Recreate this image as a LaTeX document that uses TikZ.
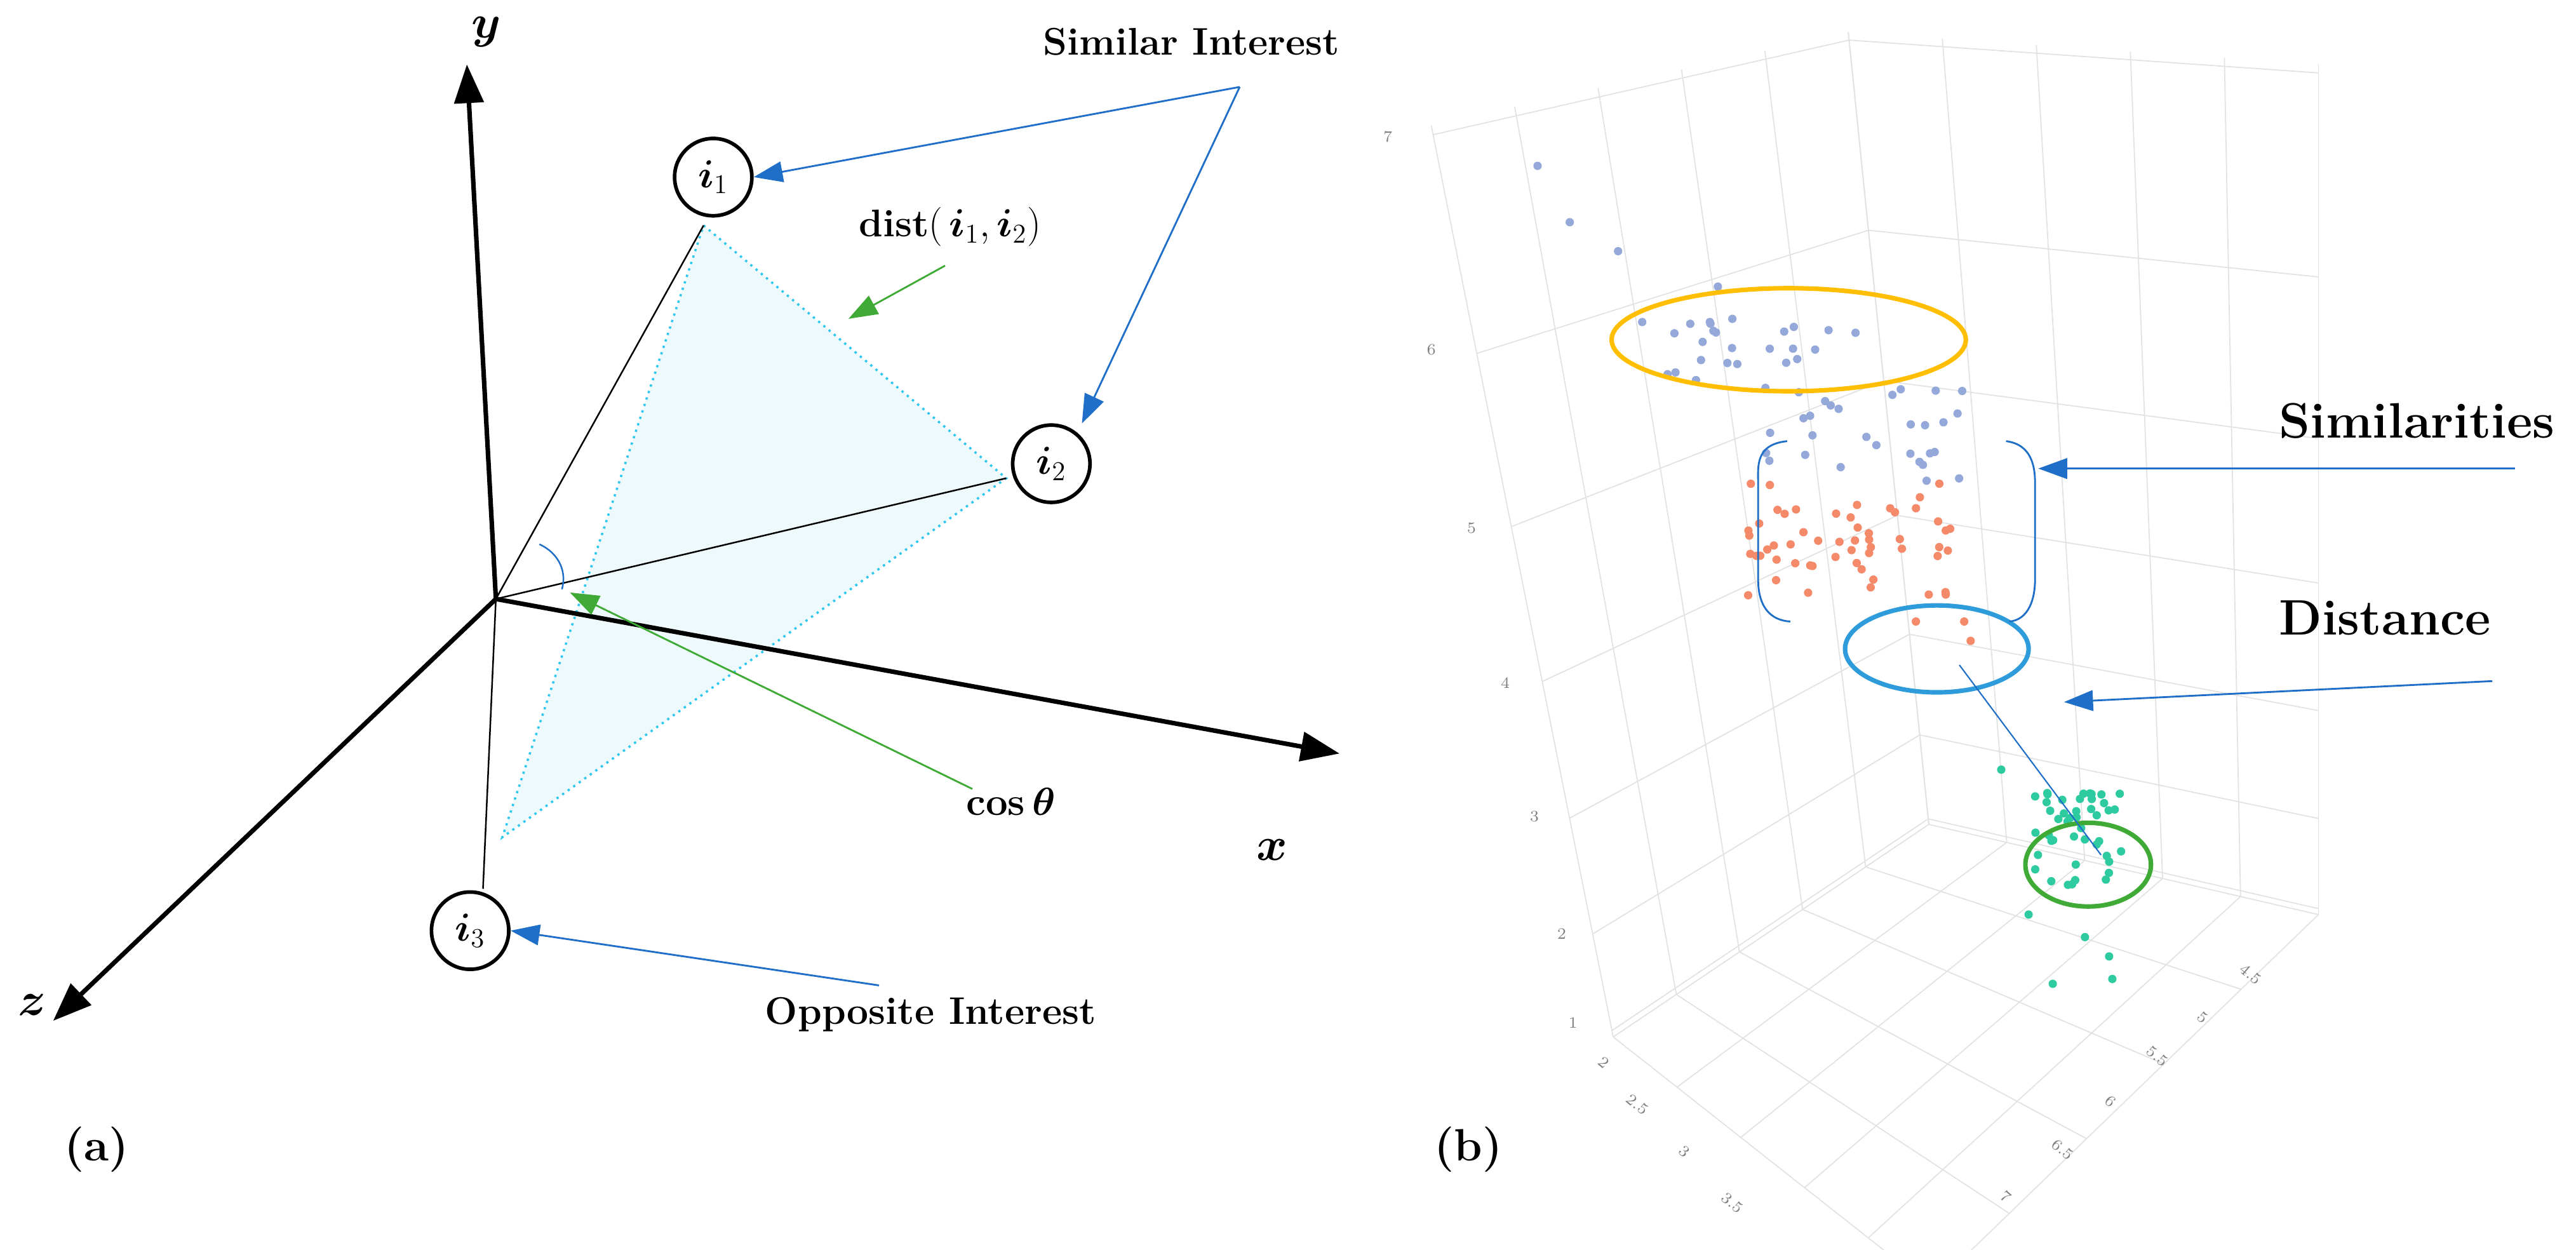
\documentclass[tikz,border=0pt]{standalone}
\usepackage{amsmath,amssymb}
\usetikzlibrary{arrows.meta}
\definecolor{abl}{HTML}{1F6FC8}
\definecolor{agr}{HTML}{3FAA35}
\definecolor{tcy}{HTML}{2FC7EE}
\definecolor{tfill}{HTML}{EEF9FC}
\definecolor{pblue}{HTML}{94A9D9}
\definecolor{pora}{HTML}{F58A6A}
\definecolor{pgre}{HTML}{2FCBA0}
\definecolor{eyel}{HTML}{FFBE00}
\definecolor{eblu}{HTML}{2E9BDB}
\definecolor{egre}{HTML}{3FAA35}
\definecolor{grid}{HTML}{E2E2E2}
\begin{document}
\begin{tikzpicture}[x=0.025cm,y=-0.025cm,
  axis/.style={line width=2pt,-{Triangle[length=0.6cm,width=0.45cm]}},
  item/.style={circle,draw,line width=1.6pt,minimum size=1.2cm,inner sep=0pt,fill=white,font=\fontsize{18}{20}\selectfont},
  lab/.style={font=\bfseries\fontsize{17}{19}\selectfont,inner sep=1pt},
  big/.style={font=\bfseries\fontsize{22}{25}\selectfont,inner sep=1pt},
  barr/.style={abl,line width=0.8pt,-{Triangle[length=0.45cm,width=0.32cm]}},
  garr/.style={agr,line width=0.8pt,-{Triangle[length=0.45cm,width=0.32cm]}},
  tick/.style={gray,font=\fontsize{7}{8}\selectfont,inner sep=0pt},
  gl/.style={grid,line width=0.5pt}]
\useasboundingbox (0,0) rectangle (1600,776);
% ---------- panel (b) grid ----------
\begin{scope}
\clip (830,0) rectangle (1600,776);
\foreach \t in {0.007,0.113,0.24,0.39,0.56,0.75,0.99}{
  \draw[gl] ({1002+\t*(889-1002)},{644+\t*(78-644)}) -- ({1198+\t*(1148-1198)},{512+\t*(20-512)});
  \draw[gl] ({1198+\t*(1148-1198)},{512+\t*(20-512)}) -- ({1440},{568+\t*(40-568)});}
\foreach \s in {0,0.2,0.4,0.6,0.8,1}{
  \draw[gl] ({1002+\s*(1198-1002)},{644+\s*(512-644)}) -- ({889+\s*(1148-889)},{78+\s*(20-78)});
  \draw[gl] ({1198+\s*(1440-1198)},{512+\s*(568-512)}) -- ({1148+\s*(1440-1148)},{20+\s*(40-20)});}
\foreach \s in {0,0.2,0.4,0.6,0.8,1}{
  \draw[gl] ({1002+\s*(1198-1002)},{644+\s*(512-644)}) -- ({1200+\s*(1440-1200)},{800+\s*(568-800)});
  \draw[gl] ({1002+\s*(1200-1002)},{644+\s*(800-644)}) -- ({1198+\s*(1440-1198)},{512+\s*(568-512)});}
\end{scope}
% ticks
\foreach \v/\x/\y in {7/862/85,6/889/217,5/914/328,4/935/424,3/953/507,2/970/580,1/977/635}
  \node[tick] (ty\v) at (\x,\y) {\v};
\foreach \v/\x/\y [count=\i] in {2/996/660,2.5/1017/686,3/1046/715,3.5/1076/747}
  \node[tick,rotate=-40] (tx\i) at (\x,\y) {\v};
\foreach \v/\x/\y [count=\i] in {4.5/1398/605,5/1368/632,5.5/1340/656,6/1311/684,6.5/1281/714,7/1246/743}
  \node[tick,rotate=-40] (tz\i) at (\x,\y) {\v};
% points
\pgfmathsetseed{11}
\foreach \p in {(955,103),(975,138),(1005,156),(1067,178),(1020,200),(1040,207),(1062,200)}
  \fill[pblue] \p circle (2.6);
\foreach \k in {1,...,22}{\fill[pblue] ({1035+125*rnd},{195+45*rnd}) circle (2.6);}
\foreach \k in {1,...,30}{\fill[pblue] ({1095+125*rnd},{240+60*rnd}) circle (2.6);}
\foreach \k in {1,...,55}{\fill[pora] ({1085+135*rnd},{300+70*rnd}) circle (2.6);}
\foreach \p in {(1190,386),(1220,386),(1224,398)} \fill[pora] \p circle (2.6);
\foreach \k in {1,...,45}{\fill[pgre] ({1262+60*rnd},{492+58*rnd}) circle (2.6);}
\foreach \p in {(1243,478),(1260,568),(1295,582),(1310,594),(1275,611),(1312,608)} \fill[pgre] \p circle (2.6);
% ellipses
\draw[eyel,line width=2pt] (1111,211) ellipse (110 and 32);
\draw[eblu,line width=2pt] (1203,403) ellipse (57 and 27);
\draw[egre,line width=2pt] (1297,537) ellipse (39 and 26);
\coordinate (d1) at (1217,413); \coordinate (d2) at (1305,531);
\draw[abl,line width=0.6pt] (d1) -- (d2);
% brackets
\draw[abl,line width=0.8pt] (1110,274) .. controls (1090,276) and (1092,290) .. (1092,300) -- (1092,360) .. controls (1092,372) and (1096,385) .. (1112,386);
\draw[abl,line width=0.8pt] (1246,274) .. controls (1262,276) and (1264,290) .. (1264,300) -- (1264,360) .. controls (1264,372) and (1260,385) .. (1248,386);
\node[big,anchor=south west] (sim) at (1414,274) {Similarities};
\node[big,anchor=south west] (dis) at (1414,396) {Distance};
\coordinate (s1) at (1562,291); \coordinate (s2) at (1266,291);
\draw[barr] (s1) -- (s2);
\coordinate (e1) at (1548,423); \coordinate (e2) at (1282,436);
\draw[barr] (e1) -- (e2);
% ---------- panel (a) ----------
\coordinate (O) at (308,372);
\coordinate (p1) at (437,140); \coordinate (p2) at (625,297); \coordinate (p3) at (312,520);
\fill[tfill] (p1) -- (p2) -- (p3) -- cycle;
\draw[tcy,line width=1pt,dotted] (p1) -- (p2) -- (p3) -- cycle;
\draw[line width=0.7pt] (O) -- (p1) (O) -- (p2) (O) -- (300,552);
\draw[abl,line width=0.7pt] (335,338) .. controls (348,344) and (352,356) .. (349,366);
\coordinate (ya) at (290,40); \coordinate (xa) at (832,468); \coordinate (za) at (33,634);
\draw[axis] (O) -- (ya);
\draw[axis] (O) -- (xa);
\draw[axis] (O) -- (za);
\node[item] (i1) at (443,110) {$\boldsymbol{i}_1$};
\node[item] (i2) at (653,288) {$\boldsymbol{i}_2$};
\node[item] (i3) at (292,578) {$\boldsymbol{i}_3$};
\node[font=\fontsize{20}{22}\selectfont] (ly) at (302,20) {$\boldsymbol{y}$};
\node[font=\fontsize{20}{22}\selectfont] (lx) at (790,528) {$\boldsymbol{x}$};
\node[font=\fontsize{20}{22}\selectfont] (lz) at (20,624) {$\boldsymbol{z}$};
\node[lab] (simi) at (740,26) {Similar Interest};
\node[lab] (opp) at (578,630) {Opposite Interest};
\node[lab] (dst) at (590,141) {dist$(\,\boldsymbol{i}_1,\boldsymbol{i}_2)$};
\node[lab] (cos) at (628,498) {$\boldsymbol{\cos\theta}$};
\coordinate (a1) at (770,54);
\draw[barr] (a1) -- (i1.east);
\draw[barr] (a1) -- (672,263);
\draw[barr] (546,612) -- (i3.east);
\coordinate (g1) at (587,165); \coordinate (g2) at (527,198);
\draw[garr] (g1) -- (g2);
\coordinate (c1) at (604,490); \coordinate (c2) at (354,368);
\draw[garr] (c1) -- (c2);
\node[font=\bfseries\fontsize{20}{22}\selectfont] (pa) at (60,714) {(a)};
\node[font=\bfseries\fontsize{20}{22}\selectfont] (pb) at (912,714) {(b)};
\end{tikzpicture}
\end{document}
